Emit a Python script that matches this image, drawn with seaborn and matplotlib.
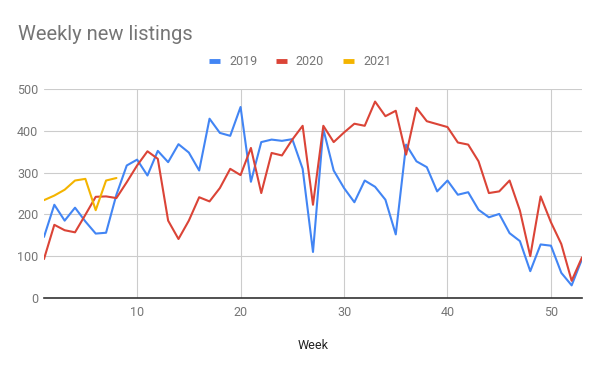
import pandas as pd
import matplotlib.pyplot as plt
import seaborn as sns

# weekly counts
weeks_2019 = list(range(1, 54))
listings_2019 = [146, 223, 185, 216, 183, 154, 156, 247, 317, 331,
                 293, 352, 325, 368, 348, 305, 429, 395, 388, 457,
                 278, 373, 379, 376, 380, 309, 110, 404, 305, 263,
                 229, 281, 266, 235, 152, 367, 327, 313, 255, 281,
                 247, 253, 211, 193, 201, 155, 136, 64, 128, 125,
                 60, 30, 93]
weeks_2020 = list(range(1, 54))
listings_2020 = [93, 175, 162, 157, 199, 242, 243, 239, 277, 317,
                 351, 333, 185, 141, 185, 241, 231, 263, 309, 294,
                 359, 251, 347, 341, 379, 412, 223, 412, 373, 396,
                 417, 412, 470, 435, 448, 343, 455, 423, 416, 409,
                 372, 367, 327, 251, 255, 281, 209, 100, 243, 181,
                 129, 41, 97]
weeks_2021 = list(range(1, 9))
listings_2021 = [234, 245, 259, 281, 285, 210, 281, 287]

df = pd.concat([
    pd.DataFrame({'week': weeks_2019, 'listings': listings_2019, 'year': '2019'}),
    pd.DataFrame({'week': weeks_2020, 'listings': listings_2020, 'year': '2020'}),
    pd.DataFrame({'week': weeks_2021, 'listings': listings_2021, 'year': '2021'}),
])

sns.set_style('white')
plt.rcParams['font.family'] = ['Roboto', 'DejaVu Sans']

fig = plt.figure(figsize=(6, 3.71), dpi=100)
ax = fig.add_axes([0.0733, 0.197, 0.8967, 0.563])

palette = {'2019': '#4285F4', '2020': '#DB4437', '2021': '#F4B400'}
sns.lineplot(data=df, x='week', y='listings', hue='year', palette=palette,
             linewidth=1.5, ax=ax, legend=True)

ax.set_xlim(1, 53)
ax.set_ylim(0, 500)
ax.set_xticks([10, 20, 30, 40, 50])
ax.set_yticks([0, 100, 200, 300, 400, 500])
ax.grid(True, color='#cccccc', linewidth=0.8)
ax.set_axisbelow(True)
for s in ['top', 'right', 'left']:
    ax.spines[s].set_visible(False)
ax.spines['bottom'].set_color('#333333')
ax.spines['bottom'].set_linewidth(1.2)
ax.tick_params(axis='both', length=0, labelsize=9, labelcolor='#757575', pad=4)
ax.tick_params(axis='x', pad=6)
ax.set_xlabel('Week', fontsize=9, color='#222222', labelpad=14)
ax.set_ylabel('')

fig.text(0.03, 0.908, 'Weekly new listings', fontsize=14.5, color='#757575',
         ha='left', va='center')

handles, labels = ax.get_legend_handles_labels()
ax.get_legend().remove()
for h in handles:
    h.set_linewidth(3.5)
    h.set_solid_capstyle('butt')
fig.legend(handles, labels, loc='center', bbox_to_anchor=(0.5, 0.833),
           ncol=3, frameon=False, fontsize=9, handlelength=0.9,
           handletextpad=0.7, columnspacing=1.5, labelcolor='#757575')

fig.savefig('out.png', dpi=100)
